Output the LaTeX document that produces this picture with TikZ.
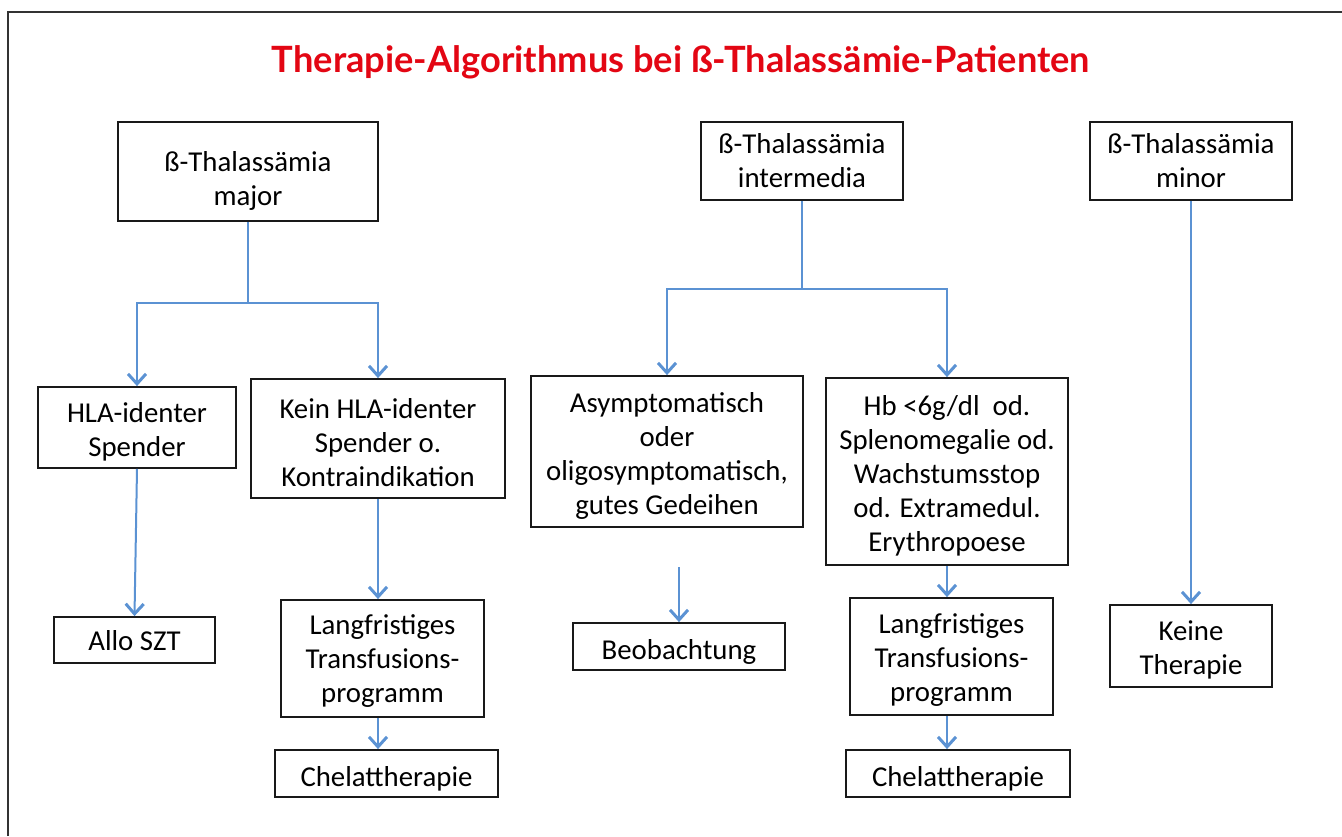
\documentclass[tikz,border=0pt]{standalone}
\usepackage{fontspec}
\setmainfont{Carlito}
\newfontfamily\titlefont{Lato}
\usetikzlibrary{arrows.meta}
\definecolor{arrowblue}{RGB}{91,146,211}
\definecolor{titlered}{RGB}{227,6,19}
\begin{document}
\begin{tikzpicture}[x=1pt,y=-1pt,
  box/.style={draw=black!90, line width=1.8pt, inner sep=0pt},
  txt/.style={align=center, inner sep=0pt, font=\fontsize{28.8}{34}\selectfont},
  conn/.style={draw=arrowblue, line width=2pt,
    -{Straight Barb[length=10pt,width=18pt,line width=3pt]}},
  frameline/.style={draw=black!80, line width=1.5pt}
]
\useasboundingbox (0,0) rectangle (1342,836);
\draw[frameline] (8,836) -- (8,12) -- (1342,12);

\node[font=\titlefont\bfseries, text=titlered] (title) at (681,62)
  {\resizebox{818pt}{!}{Therapie-Algorithmus bei ß-Thalassämie-Patienten}};

% boxes
\node[box, minimum width=260, minimum height=99] (major) at (248,171.5) {};
\node[box, minimum width=202, minimum height=78] (inter) at (802,161) {};
\node[box, minimum width=202, minimum height=78] (minor) at (1191,161) {};
\node[box, minimum width=198, minimum height=81] (hla) at (137,427.5) {};
\node[box, minimum width=254, minimum height=119] (kein) at (378,438.5) {};
\node[box, minimum width=272, minimum height=151] (asym) at (667,451.5) {};
\node[box, minimum width=242, minimum height=187] (hb) at (947,471.5) {};
\node[box, minimum width=161, minimum height=46] (allo) at (134.5,640) {};
\node[box, minimum width=203, minimum height=117] (lang1) at (382.5,658.5) {};
\node[box, minimum width=212, minimum height=47] (beob) at (679,646.5) {};
\node[box, minimum width=203, minimum height=117] (lang2) at (951.5,656.5) {};
\node[box, minimum width=162, minimum height=82] (keine) at (1191,646) {};
\node[box, minimum width=223, minimum height=47] (chel1) at (386.5,773.5) {};
\node[box, minimum width=224, minimum height=47] (chel2) at (958,773.5) {};

% texts
\node[txt, yshift=-9pt] (majort) at (major.center) {ß-Thalassämia\\major};
\node[txt] (intert) at (inter.center) {ß-Thalassämia\\intermedia};
\node[txt] (minort) at (minor.center) {ß-Thalassämia\\minor};
\node[txt, yshift=-4pt] (hlat) at (hla.center) {HLA-identer\\Spender};
\node[txt, yshift=-4.5pt] (keint) at (kein.center) {Kein HLA-identer\\Spender o.\\Kontraindikation};
\node[txt, yshift=-4pt] (asymt) at (asym.center) {Asymptomatisch\\oder\\oligosymptomatisch,\\gutes Gedeihen};
\node[txt, yshift=-4.5pt] (hbt) at (hb.center) {Hb <6g/dl\ \ od.\\Splenomegalie od.\\Wachstumsstop\\od. Extramedul.\\Erythropoese};
\node[txt, yshift=-1pt] (allot) at (allo.center) {Allo SZT};
\node[txt, yshift=-3pt] (lang1t) at (lang1.center) {Langfristiges\\Transfusions-\\programm};
\node[txt, yshift=-5pt] (beobt) at (beob.center) {Beobachtung};
\node[txt, yshift=-3.5pt] (lang2t) at (lang2.center) {Langfristiges\\Transfusions-\\programm};
\node[txt, yshift=-3.5pt] (keinet) at (keine.center) {Keine\\Therapie};
\node[txt, yshift=-5pt] (chel1t) at (chel1.center) {Chelattherapie};
\node[txt, yshift=-5pt] (chel2t) at (chel2.center) {Chelattherapie};

% connectors
\draw[conn] (major.south) -- ++(0,81) -| (hla.north);
\draw[conn] (major.south) -- ++(0,81) -| (kein.north);
\draw[conn] (inter.south) -- ++(0,88) -| (asym.north);
\draw[conn] (inter.south) -- ++(0,88) -| (hb.north);
\draw[conn] (minor.south) -- (keine.north);
\draw[conn] (hla.south) -- (allo.north);
\draw[conn] (kein.south) -- (kein.south |- lang1.north);
\coordinate (bstart) at (679,567);
\draw[conn] (bstart) -- (beob.north);
\draw[conn] (hb.south) -- (hb.south |- lang2.north);
\draw[conn] (kein.south |- lang1.south) -- (kein.south |- chel1.north);
\draw[conn] (hb.south |- lang2.south) -- (hb.south |- chel2.north);
\end{tikzpicture}
\end{document}
